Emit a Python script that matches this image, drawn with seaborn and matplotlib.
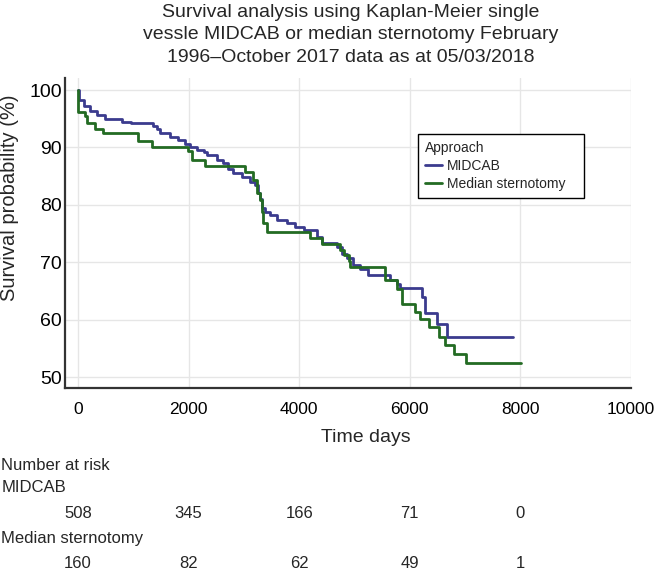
import pandas as pd
import seaborn as sns
import matplotlib.pyplot as plt
from matplotlib.ticker import MultipleLocator
from matplotlib.transforms import blended_transform_factory

# Kaplan-Meier step points (days, survival %)
midcab_t = [0, 20, 100, 220, 340, 490, 800, 950, 1360, 1420, 1480, 1660, 1810, 1940,
            2030, 2150, 2270, 2330, 2510, 2630, 2720, 2810, 2960, 3110, 3200, 3260,
            3290, 3320, 3385, 3475, 3600, 3780, 3930, 4080, 4320, 4410, 4680, 4770,
            4860, 4980, 5100, 5250, 5650, 5770, 5830, 6220, 6280, 6500, 6670, 7870]
midcab_s = [100, 98.3, 97.2, 96.3, 95.6, 94.9, 94.5, 94.2, 93.7, 93.2, 92.5, 91.9, 91.3, 90.6,
            90.0, 89.5, 89.2, 88.7, 87.9, 87.3, 86.2, 85.6, 84.9, 84.0, 83.4, 82.0,
            81.1, 79.4, 78.8, 78.2, 77.4, 76.8, 76.2, 75.6, 74.4, 73.3, 72.7, 71.5,
            70.7, 69.5, 68.9, 67.8, 66.9, 66.3, 65.6, 64.0, 61.1, 59.2, 56.9, 56.9]

sternotomy_t = [0, 6, 127, 157, 308, 458, 1092, 1333, 1997, 2057, 2299, 3023, 3162, 3234,
                3294, 3324, 3354, 3415, 4199, 4420, 4742, 4802, 4893, 4923, 5557, 5768,
                5858, 6099, 6190, 6341, 6522, 6643, 6805, 7023, 8012]
sternotomy_s = [100, 96.2, 95.4, 94.2, 93.3, 92.5, 91.1, 90.1, 89.3, 87.9, 86.8, 85.8, 84.3, 82.0,
                80.8, 78.8, 76.8, 75.3, 74.2, 73.1, 72.1, 71.3, 70.2, 69.2, 66.9, 65.3,
                62.7, 61.4, 60.2, 58.7, 57.0, 55.6, 54.0, 52.4, 52.4]

risk_times = [0, 2000, 4000, 6000, 8000]
risk_midcab = ["508", "345", "166", "71", "0"]
risk_sternotomy = ["160", "82", "62", "49", "1"]

df = pd.concat([
    pd.DataFrame({"time": midcab_t, "survival": midcab_s, "approach": "MIDCAB"}),
    pd.DataFrame({"time": sternotomy_t, "survival": sternotomy_s, "approach": "Median sternotomy"}),
])

sns.set_theme(style="white")
plt.rcParams["font.family"] = ["Liberation Sans", "DejaVu Sans"]

fig = plt.figure(figsize=(6.56, 5.71), dpi=100)
ax = fig.add_axes([65 / 656, 1 - 388 / 571, 566 / 656, 310 / 571])

colors = {"MIDCAB": "#3b3b8e", "Median sternotomy": "#236b23"}
sns.lineplot(data=df, x="time", y="survival", hue="approach", palette=colors,
             estimator=None, drawstyle="steps-post", linewidth=2, ax=ax)

ax.set_xlim(-235, 10000)
ax.set_ylim(48.1, 102.1)
ax.xaxis.set_major_locator(MultipleLocator(2000))
ax.xaxis.set_minor_locator(MultipleLocator(1000))
ax.yaxis.set_major_locator(MultipleLocator(10))
ax.yaxis.set_minor_locator(MultipleLocator(5))
ax.grid(True, which="major", color="#e6e6e6", linewidth=1)
ax.tick_params(which="both", direction="in", colors="#333333", labelcolor="black")
ax.tick_params(which="major", length=8, width=1.3)
ax.tick_params(which="minor", length=4, width=1)
ax.tick_params(axis="x", pad=10, labelsize=12.5)
ax.tick_params(axis="y", pad=2, labelsize=14)
for side in ["top", "right"]:
    ax.spines[side].set_visible(False)
for side in ["left", "bottom"]:
    ax.spines[side].set_color("#333333")
    ax.spines[side].set_linewidth(1.6)
ax.set_xlabel("")
ax.set_ylabel("")

fig.text(10 / 656, 1 - 198 / 571, "Survival probability (%)", rotation=90,
         ha="center", va="center", fontsize=14.5)
fig.text(366 / 656, 1 - 437 / 571, "Time days", ha="center", va="center", fontsize=14)
fig.text(351 / 656, 1 - 4 / 571,
         "Survival analysis using Kaplan-Meier single\n"
         "vessle MIDCAB or median sternotomy February\n"
         "1996\u2013October 2017 data as at 05/03/2018",
         ha="center", va="top", fontsize=14, linespacing=1.42)

handles, labels = ax.get_legend_handles_labels()
leg = ax.legend(handles, labels, title="Approach", loc="upper left",
                bbox_to_anchor=(418 / 656, 1 - 198 / 571, 166 / 656, 64 / 571),
                bbox_transform=fig.transFigure, mode="expand",
                borderaxespad=0, fontsize=10, title_fontsize=10, frameon=True,
                fancybox=False, framealpha=1, edgecolor="black", handlelength=1.2,
                handletextpad=0.4, labelspacing=0.3, borderpad=0.5, alignment="left")
leg.get_frame().set_linewidth(1)

# number at risk table
fig.text(0.002, 1 - 465 / 571, "Number at risk", ha="left", va="center", fontsize=12)
fig.text(0.002, 1 - 488 / 571, "MIDCAB", ha="left", va="center", fontsize=12)
fig.text(0.002, 1 - 538 / 571, "Median sternotomy", ha="left", va="center", fontsize=12)
tr = blended_transform_factory(ax.transData, fig.transFigure)
for t, a, b in zip(risk_times, risk_midcab, risk_sternotomy):
    ax.text(t, 1 - 513 / 571, a, transform=tr, ha="center", va="center", fontsize=12, clip_on=False)
    ax.text(t, 1 - 563 / 571, b, transform=tr, ha="center", va="center", fontsize=12, clip_on=False)

fig.savefig("out.png", dpi=100)
